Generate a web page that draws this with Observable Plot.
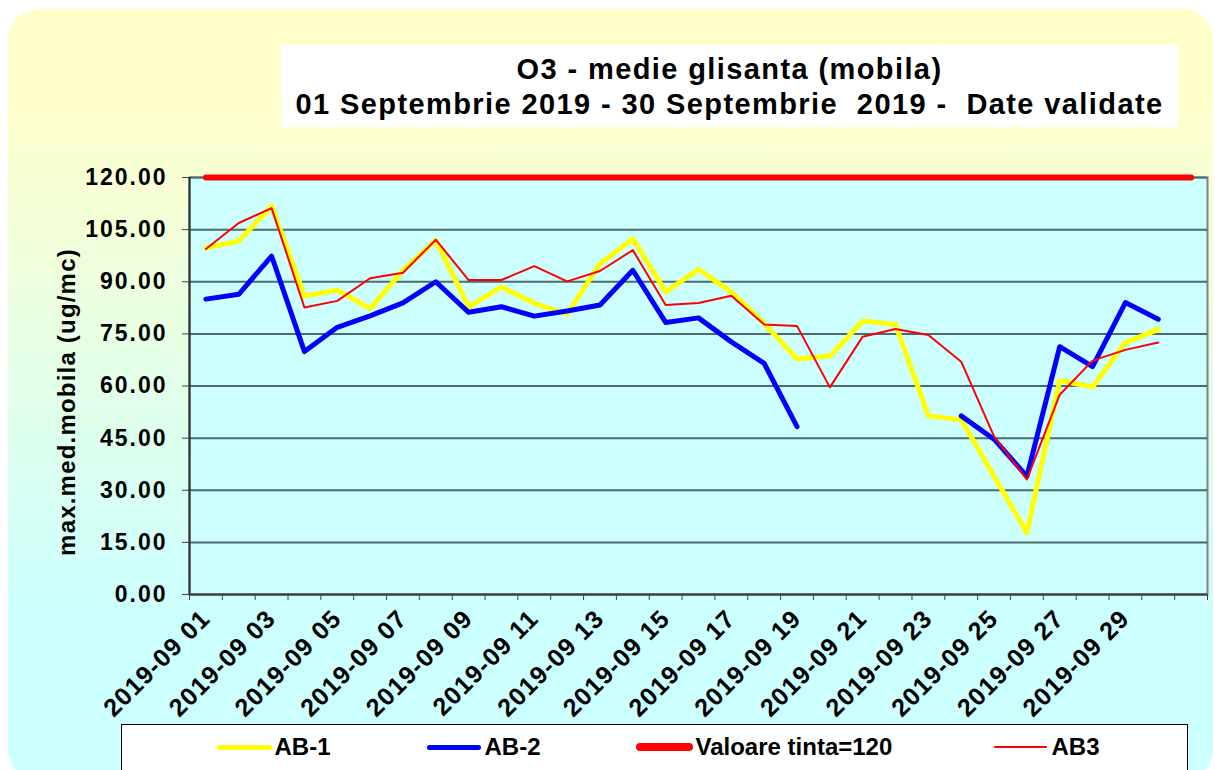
<!DOCTYPE html>
<html>
<head>
<meta charset="utf-8">
<script src="https://cdn.jsdelivr.net/npm/d3@7"></script>
<script src="https://cdn.jsdelivr.net/npm/@observablehq/plot@0.6"></script>
<style>
  html, body { margin: 0; padding: 0; background: #ffffff; }
  body { width: 1215px; height: 770px; overflow: hidden; position: relative;
         font-family: Arial, "Liberation Sans", sans-serif; }
  #bg { position: absolute; left: 8px; top: 9px; width: 1205px; height: 771px;
        border-radius: 30px;
        background: linear-gradient(to bottom, #FFFFCC 0%, #FFFFCC 12%, #CCFFFF 78%, #CCFFFF 100%); }
  #title { position: absolute; left: 281px; top: 45px; width: 897px; height: 82px;
           background: #ffffff; }
  #title div { position: absolute; left: 0; width: 100%; text-align: center;
               font-weight: bold; font-size: 29px; line-height: 35px; color: #000;
               letter-spacing: 1.4px; white-space: pre; }
  #chart { position: absolute; left: 0; top: 0; }
  #ytitle { position: absolute; left: 67px; top: 402px; transform: translate(-50%, -50%) rotate(-90deg);
            font-weight: bold; font-size: 24px; letter-spacing: 1.2px; white-space: nowrap; color: #000; }
  #legend { position: absolute; left: 121px; top: 724px; width: 1067px; height: 70px;
            box-sizing: border-box; background: #ffffff; border: 1.5px solid #000; }
  .lg-line { position: absolute; }
  .lg-text { position: absolute; font-weight: bold; font-size: 24px; line-height: 28px; color: #000; white-space: nowrap; }
</style>
</head>
<body>
<div id="bg"></div>
<div id="title">
  <div id="t1" style="top:7px">O3 - medie glisanta (mobila)</div>
  <div id="t2" style="top:42px">01 Septembrie 2019 - 30 Septembrie  2019 -  Date validate</div>
</div>
<div id="chart"></div>
<div id="ytitle">max.med.mobila (ug/mc)</div>
<div id="legend"></div>
<script>
// ---- data ----
const days = [
  "2019-09 01","2019-09 02","2019-09 03","2019-09 04","2019-09 05","2019-09 06",
  "2019-09 07","2019-09 08","2019-09 09","2019-09 10","2019-09 11","2019-09 12",
  "2019-09 13","2019-09 14","2019-09 15","2019-09 16","2019-09 17","2019-09 18",
  "2019-09 19","2019-09 20","2019-09 21","2019-09 22","2019-09 23","2019-09 24",
  "2019-09 25","2019-09 26","2019-09 27","2019-09 28","2019-09 29","2019-09 30",
  ""
];
const ab1 = [99.8, 101.7, 111.8, 85.9, 87.6, 82.3, 93.3, 101.9, 82.8, 88.5,
             83.8, 80.7, 95.2, 102.4, 87.1, 93.6, 87.1, 78.0, 67.8, 68.6,
             78.7, 77.7, 51.4, 50.3, 34.0, 17.8, 61.6, 59.7, 72.5, 76.3];
const ab2 = [85.0, 86.4, 97.4, 69.9, 76.9, 80.2, 83.9, 90.0, 81.2, 82.8,
             80.1, 81.6, 83.3, 93.3, 78.3, 79.6, 72.7, 66.5, 48.3, null,
             null, null, null, 51.4, 44.7, 34.0, 71.3, 65.6, 84.0, 79.2];
const ab3 = [99.4, 106.9, 111.2, 82.6, 84.5, 91.0, 92.6, 102.1, 90.5, 90.5,
             94.5, 90.1, 93.1, 99.1, 83.3, 83.9, 86.0, 77.7, 77.3, 59.6,
             74.2, 76.4, 74.7, 67.0, 45.5, 33.1, 57.5, 67.3, 70.4, 72.5];
const targetValue = 120;
const yTicks = [0, 15, 30, 45, 60, 75, 90, 105, 120];
const seriesNames = ["AB-1", "AB-2", "Valoare tinta=120", "AB3"];

// ---- build rows ----
const toRows = vals => vals.map((v, i) => ({day: i + 1, value: v}));
const rows1 = toRows(ab1);
const rows2 = toRows(ab2);
const rows3 = toRows(ab3);
const rowsT = days.map((d, i) => ({day: i + 1, value: targetValue}));
const labelDays = d3.range(1, days.length, 2).filter(d => days[d - 1] !== "");
const boundaries = d3.range(0.5, days.length + 1, 1);

const chart = Plot.plot({
  width: 1215,
  height: 724,
  marginLeft: 189,
  marginRight: 8,
  marginTop: 177,
  marginBottom: 130,
  x: {type: "linear", domain: [0.5, days.length + 0.5]},
  y: {domain: [0, 120]},
  style: {fontFamily: "Arial, 'Liberation Sans', sans-serif", fontWeight: "bold",
          fontSize: "24px", background: "transparent", color: "#000", overflow: "visible"},
  marks: [
    Plot.frame({fill: "#CCFFFF", stroke: "#808080", strokeWidth: 2}),
    Plot.gridY(yTicks, {stroke: "#4F6A6A", strokeOpacity: 1, strokeWidth: 2}),
    Plot.axisY(yTicks, {tickSize: 7, tickPadding: 15, tickFormat: d3.format(".2f"),
                        fontSize: 23, stroke: "#404040", fill: "#000", label: null}),
    Plot.axisX(boundaries, {tickSize: 6, tickFormat: () => "", stroke: "#404040", label: null}),
    Plot.axisX(labelDays, {tickSize: 0, tickPadding: 20, tickRotate: -45,
                           tickFormat: d => days[d - 1], fontSize: 25, fill: "#000", label: null}),
    Plot.ruleX([0.5], {stroke: "#303030", strokeWidth: 2}),
    Plot.ruleY([0], {stroke: "#404040", strokeWidth: 2}),
    Plot.line(rows1, {x: "day", y: "value", stroke: "#FFFF00", strokeWidth: 5}),
    Plot.line(rows2, {x: "day", y: "value", stroke: "#0000FF", strokeWidth: 5}),
    Plot.line(rowsT, {x: "day", y: "value", stroke: "#FF0000", strokeWidth: 6}),
    Plot.line(rows3, {x: "day", y: "value", stroke: "#FF0000", strokeWidth: 2})
  ]
});
document.getElementById("chart").appendChild(chart);
d3.select(chart).selectAll('g[aria-label="y-axis tick label"] text').style("letter-spacing", "2px");
d3.select(chart).selectAll('g[aria-label="x-axis tick label"] text').style("letter-spacing", "1.2px");

// ---- legend ----
const legendItems = [
  {name: seriesNames[0], color: "#FFFF00", w: 5, x0: 217, x1: 272, tx: 275},
  {name: seriesNames[1], color: "#0000FF", w: 5, x0: 427, x1: 481, tx: 485},
  {name: seriesNames[2], color: "#FF0000", w: 8, x0: 636, x1: 693, tx: 696},
  {name: seriesNames[3], color: "#FF0000", w: 2, x0: 994, x1: 1047, tx: 1052}
];
const legend = document.getElementById("legend");
const lx = 121 + 1.5, ly = 724 + 1.5, cy = 747.5;
for (const it of legendItems) {
  const ln = document.createElement("div");
  ln.className = "lg-line";
  ln.style.left = (it.x0 - lx) + "px";
  ln.style.top = (cy - it.w / 2 - ly) + "px";
  ln.style.width = (it.x1 - it.x0) + "px";
  ln.style.height = it.w + "px";
  ln.style.background = it.color;
  ln.style.borderRadius = (it.w / 2) + "px";
  legend.appendChild(ln);
  const tx = document.createElement("div");
  tx.className = "lg-text";
  tx.style.left = (it.tx - lx) + "px";
  tx.style.top = (cy - 14 - ly) + "px";
  tx.textContent = it.name;
  legend.appendChild(tx);
}
</script>
</body>
</html>
